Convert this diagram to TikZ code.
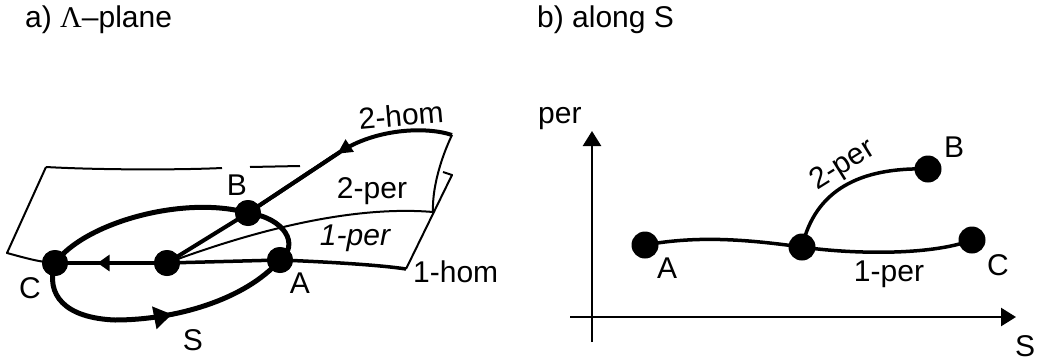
\documentclass[tikz,border=0pt]{standalone}
\usepackage{fontspec}
\setmainfont{Liberation Sans}
\newfontfamily\serifL{Liberation Serif}
\usetikzlibrary{arrows.meta,decorations.markings}
\begin{document}
\begin{tikzpicture}[x=1pt,y=-1pt,
  font=\fontsize{30}{34}\selectfont,
  lbl/.style={inner sep=0pt, anchor=base},
  dot/.style={circle, fill=black, inner sep=0pt, minimum size=26pt},
  thinl/.style={line width=2pt, line join=round},
  ell/.style={line width=5pt},
  thickl/.style={line width=4pt},
  medl/.style={line width=3.5pt},
  curvl/.style={line width=3.5pt},
  axis/.style={line width=2.5pt, -{Triangle[length=15pt,width=18pt]}},
]
\useasboundingbox (0,0) rectangle (1039,362);

% titles
\node[lbl, anchor=base west] (ta) at (25,27) {a) {\serifL Λ}–plane};
\node[lbl, anchor=base west] (tb) at (537,27) {b) along S};

% ---------- panel a ----------
\node[dot] (C) at (55,263) {};
\node[dot] (M) at (167,263) {};
\node[dot] (A) at (280,260) {};
\node[dot] (B) at (248,213) {};
\coordinate (H2) at (452,135);
\coordinate (P2) at (433,212);
\coordinate (H1) at (406,269);
\coordinate (Hk) at (452,175);
\coordinate (Q) at (340,152);
\coordinate (TL) at (46,167);
\coordinate (BL) at (7,253);

% sheet outline
\draw[thinl] (TL) .. controls (100,170) and (180,170) .. (222,168);
\draw[thinl] (250,167) -- (300,166);
\draw[thinl] (TL) -- (BL) .. controls (22,257) and (38,262) .. (C.center);
\draw[thinl] (H2) .. controls (440,160) and (432,190) .. (P2);
\draw[thinl] (443,172) -- (Hk) -- (H1);
\draw[thinl] (M.center) .. controls (250,232) and (350,205) .. (P2);

% 1-hom
\draw[medl] (M.center) -- (A.center) .. controls (330,262) and (380,265) .. (H1);

% 2-hom
\draw[thickl] (M.center) -- (B.center) -- (Q) .. controls (375,129) and (425,126) .. (H2);
\draw[thickl, postaction={decorate}, decoration={markings,
  mark=at position 0.97 with {\arrowreversed{Triangle[length=15pt,width=14pt]}}}]
  (B.center) -- (Q);

% C line
\draw[thickl, postaction={decorate}, decoration={markings,
  mark=at position 0.62 with {\arrow{Triangle[length=12pt,width=16pt]}}}]
  (M.center) -- (C.center);

% ellipse S
\draw[ell] (A.center) .. controls (300,245) and (285,218) .. (B.center)
  .. controls (185,195) and (85,222) .. (C.center);
\draw[ell, postaction={decorate}, decoration={markings,
  mark=at position 0.56 with {\arrow{Triangle[length=18pt,width=22pt]}}}]
  (C.center) .. controls (45,295) and (65,318) .. (115,320)
  .. controls (175,320) and (245,300) .. (A.center);

% redraw dots on top
\node[dot] at (C) {};
\node[dot] at (M) {};
\node[dot] at (A) {};
\node[dot] at (B) {};

% labels a
\node[lbl] (lC) at (30,298) {C};
\node[lbl] (lA) at (300,293) {A};
\node[lbl] (lB) at (237,195) {B};
\node[lbl] (lS) at (193,350) {S};
\node[lbl, rotate=5] (l2h) at (402,126) {2-hom};
\node[lbl] (l2p) at (372,198) {2-per};
\node[lbl] (l1p) at (355,245) {\itshape 1-per};
\node[lbl, anchor=base west] (l1h) at (413,282) {1-hom};

% ---------- panel b ----------
\coordinate (yb) at (592,342);
\coordinate (yt) at (592,131);
\coordinate (xl) at (570,317);
\coordinate (xr) at (1016,317);
\draw[axis] (yb) -- (yt);
\draw[axis] (xl) -- (xr);

\node[dot, minimum size=27pt] (rA) at (645,245) {};
\node[dot, minimum size=27pt] (rM) at (802,247) {};
\node[dot, minimum size=27pt] (rC) at (972,240) {};
\node[dot, minimum size=27pt] (rB) at (928,169) {};

\draw[curvl] (rA.center) .. controls (700,235) and (750,240) .. (rM.center);
\draw[curvl] (rM.center) .. controls (850,254) and (930,256) .. (rC.center);
\draw[curvl] (rM.center) .. controls (815,190) and (860,167) .. (rB.center);

\node[lbl, anchor=base west] (lper) at (538,123) {per};
\node[lbl, anchor=base west] (lS2) at (1015,356) {S};
\node[lbl] (rlA) at (667,278) {A};
\node[lbl] (rlC) at (998,275) {C};
\node[lbl] (rlB) at (954,157) {B};
\node[lbl] (rl1p) at (889,281) {1-per};
\node[inner sep=0pt, rotate=32] (rl2p) at (843,166) {2-per};
\end{tikzpicture}
\end{document}
